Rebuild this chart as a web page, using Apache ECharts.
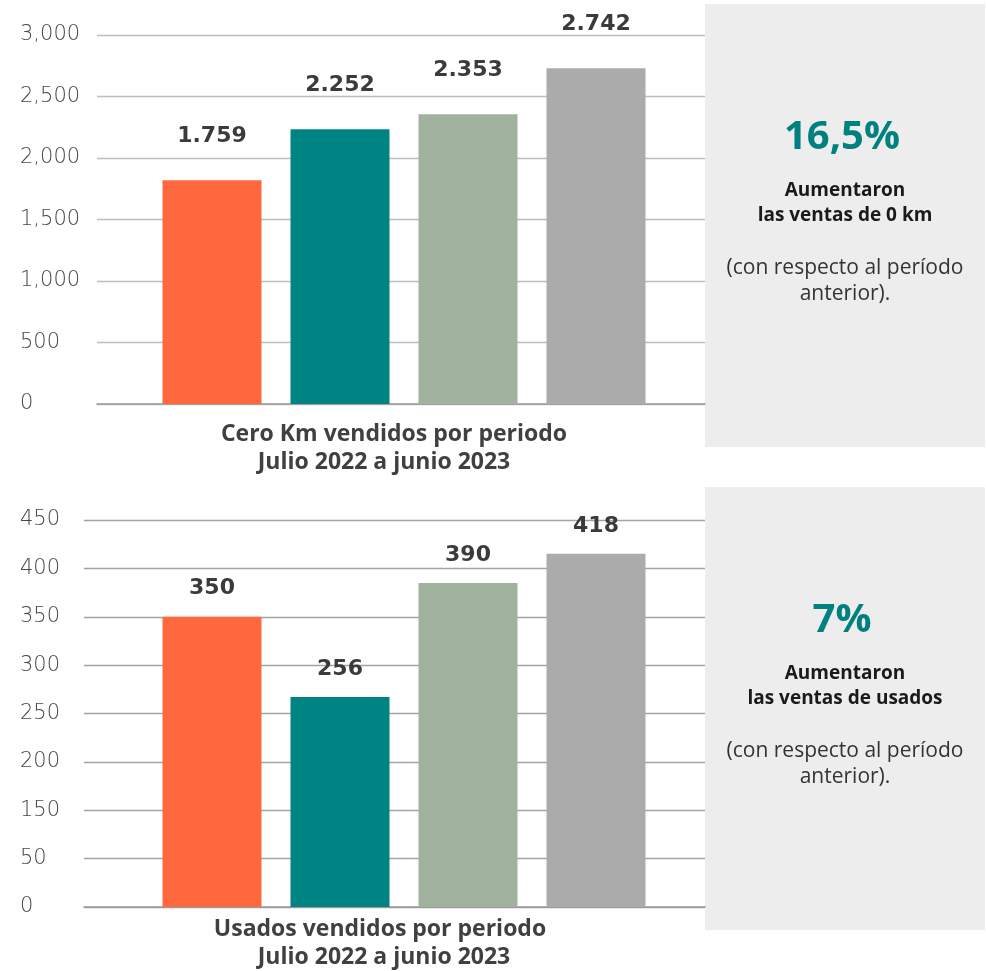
<!DOCTYPE html>
<html>
<head>
<meta charset="utf-8">
<script src="https://cdn.jsdelivr.net/npm/echarts@6/dist/echarts.min.js"></script>
<style>
  html, body { margin: 0; padding: 0; background: #ffffff; }
  #chart { width: 986px; height: 971px; }
</style>
</head>
<body>
<div id="chart"></div>
<script>
// ---- Data ----
var periods = ['Período 1', 'Período 2', 'Período 3', 'Período 4'];

// Chart 1: Cero Km (bar heights as read against the axis, printed labels)
var ceroKmValues = [1820, 2234, 2356, 2729];
var ceroKmLabels = ['1.759', '2.252', '2.353', '2.742'];
var ceroKmTicks = ['0', '500', '1,000', '1,500', '2,000', '2,500', '3,000'];
var ceroKmTitle = ['Cero Km vendidos por periodo', 'Julio 2022 a junio 2023'];
var ceroKmHighlight = '16,5%';
var ceroKmNote = ['Aumentaron', 'las ventas de 0 km'];

// Chart 2: Usados (axis gridlines are evenly spaced; printed tick labels skip 100)
var usadosValues = [300, 217, 335, 365];
var usadosLabels = ['350', '256', '390', '418'];
var usadosTicks = ['0', '50', '150', '200', '250', '300', '350', '400', '450'];
var usadosTitle = ['Usados vendidos por periodo', 'Julio 2022 a junio 2023'];
var usadosHighlight = '7%';
var usadosNote = ['Aumentaron', 'las ventas de usados'];

var commonNote = ['(con respecto al período', 'anterior).'];

// ---- Styles ----
var barColors = ['#FF683D', '#008383', '#A1B39E', '#ABABAB'];
var teal = '#00817F';
var textDark = '#3B3B3B';
var font = 'Open Sans';

var chart = echarts.init(document.getElementById('chart'), null, { renderer: 'canvas' });

function wideY(gridIndex, max, interval, ticks, margin, lineColor) {
  return {
    type: 'value', gridIndex: gridIndex, min: 0, max: max, interval: interval,
    axisLine: { show: false }, axisTick: { show: false },
    splitLine: { show: true, lineStyle: { color: lineColor, width: 1.3 } },
    axisLabel: {
      show: true, align: 'left', margin: margin,
      fontFamily: 'DejaVu Sans', fontSize: 21, color: '#474747', fontWeight: 200,
      formatter: function (v) { return ticks[Math.round(v / interval)]; }
    }
  };
}
function barY(gridIndex, max, interval) {
  return {
    type: 'value', gridIndex: gridIndex, min: 0, max: max, interval: interval,
    show: false
  };
}
function wideX(gridIndex) {
  return {
    type: 'value', gridIndex: gridIndex, min: 0, max: 1,
    axisLine: { show: true, onZero: false, lineStyle: { color: '#999999', width: 1.6 } },
    axisTick: { show: false }, axisLabel: { show: false }, splitLine: { show: false }
  };
}
function barX(gridIndex) {
  return {
    type: 'category', gridIndex: gridIndex, data: periods,
    axisLine: { show: false }, axisTick: { show: false }, axisLabel: { show: false }
  };
}
function barSeries(xi, yi, values, labels, dist) {
  return {
    type: 'bar', xAxisIndex: xi, yAxisIndex: yi, barWidth: 99,
    data: values.map(function (v, i) {
      return { value: v, itemStyle: { color: barColors[i] } };
    }),
    label: {
      show: true, position: 'top', distance: dist,
      fontFamily: 'DejaVu Sans', fontWeight: 'bold', fontSize: 22, color: textDark,
      formatter: function (p) { return labels[p.dataIndex]; }
    },
    z: 3
  };
}
function panel(top, height, cy, highlight, note) {
  var cx = 845;
  var els = [
    { type: 'rect', shape: { x: 705, y: top, width: 280, height: height },
      style: { fill: '#EDEDED' }, z: 0 },
    { type: 'text', x: cx - 3, y: cy, style: { text: highlight, fill: teal,
      font: 'bold 40px ' + font, textAlign: 'center', textVerticalAlign: 'middle' } },
    { type: 'text', x: cx, y: cy + 53, style: { text: note[0], fill: '#1a1a1a',
      font: 'bold 19px ' + font, textAlign: 'center', textVerticalAlign: 'middle' } },
    { type: 'text', x: cx, y: cy + 78, style: { text: note[1], fill: '#1a1a1a',
      font: 'bold 19px ' + font, textAlign: 'center', textVerticalAlign: 'middle' } },
    { type: 'text', x: cx, y: cy + 130, style: { text: commonNote[0], fill: '#333333',
      font: '21px ' + font, textAlign: 'center', textVerticalAlign: 'middle' } },
    { type: 'text', x: cx, y: cy + 156, style: { text: commonNote[1], fill: '#333333',
      font: '21px ' + font, textAlign: 'center', textVerticalAlign: 'middle' } }
  ];
  return els;
}
function titles(lines, y1, c1, c2) {
  return [
    { type: 'text', x: c1, y: y1, style: { text: lines[0], fill: '#404040',
      font: 'bold 23px ' + font, textAlign: 'center', textVerticalAlign: 'middle' } },
    { type: 'text', x: c2, y: y1 + 28, style: { text: lines[1], fill: '#404040',
      font: 'bold 23px ' + font, textAlign: 'center', textVerticalAlign: 'middle' } }
  ];
}

var option = {
  backgroundColor: '#ffffff',
  animation: false,
  grid: [
    { left: 97, top: 35, width: 608, height: 369 },
    { left: 148, top: 35, width: 512, height: 369 },
    { left: 84, top: 520, width: 621, height: 387 },
    { left: 148, top: 520, width: 512, height: 387 }
  ],
  xAxis: [wideX(0), barX(1), wideX(2), barX(3)],
  yAxis: [
    wideY(0, 3000, 500, ceroKmTicks, 77, '#BDBDBD'),
    barY(1, 3000, 500),
    wideY(2, 400, 50, usadosTicks, 64, '#A3A3A3'),
    barY(3, 400, 50)
  ],
  series: [
    barSeries(1, 1, ceroKmValues, ceroKmLabels, 33),
    barSeries(3, 3, usadosValues, usadosLabels, 17)
  ],
  graphic: [].concat(
    panel(4, 443, 138, ceroKmHighlight, ceroKmNote),
    panel(487, 443, 621, usadosHighlight, usadosNote),
    titles(ceroKmTitle, 434, 394, 384),
    titles(usadosTitle, 929, 380, 384)
  )
};
chart.setOption(option);
</script>
</body>
</html>
